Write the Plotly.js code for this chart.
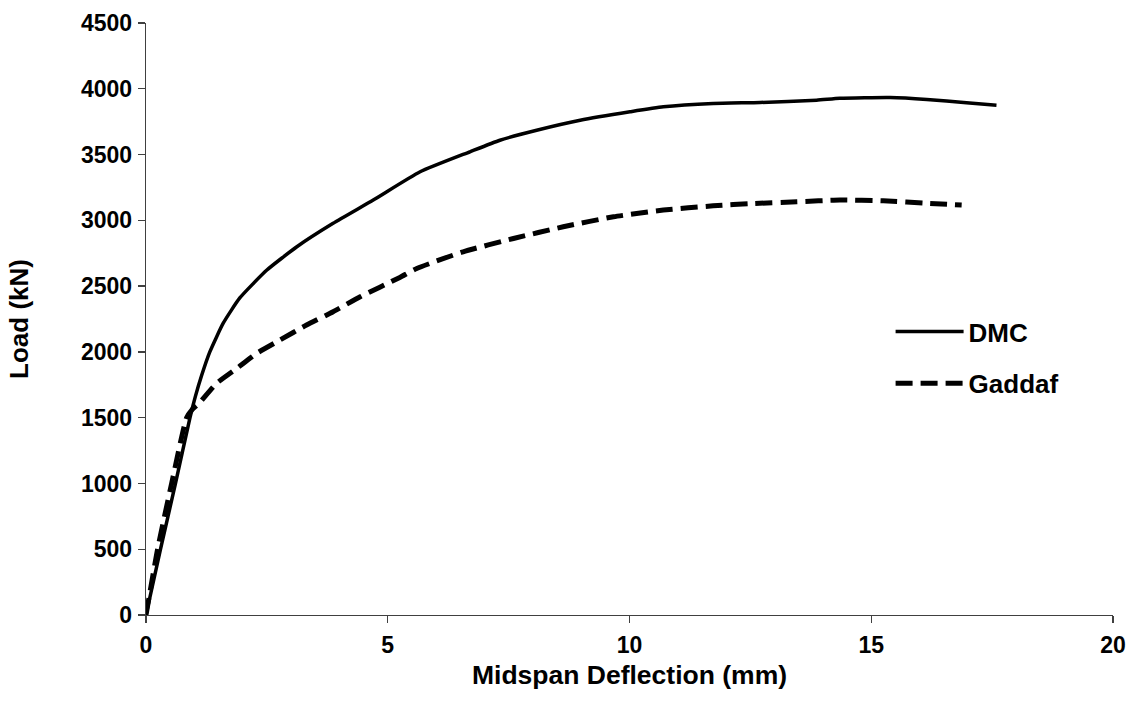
<!DOCTYPE html>
<html>
<head>
<meta charset="utf-8">
<script src="https://cdn.plot.ly/plotly-3.0.1.min.js"></script>
<style>
  html, body { margin: 0; padding: 0; background: #fff; }
  #chart { width: 1132px; height: 718px; }
</style>
</head>
<body>
<div id="chart"></div>
<script>
// Midspan deflection (mm) vs load (kN)
const dmcX = [0, 0.30, 0.61, 0.91, 1.02, 1.15, 1.32, 1.60, 1.94, 2.50, 3.12, 3.87, 4.70, 5.67, 6.70, 7.32, 8.08, 8.98, 10.01, 10.70, 11.73, 12.70, 13.87, 14.35, 15.39, 16.15, 16.97, 17.59];
const dmcY = [0, 500, 1000, 1500, 1660, 1820, 2000, 2220, 2410, 2622, 2799, 2977, 3154, 3369, 3521, 3609, 3685, 3761, 3825, 3863, 3888, 3896, 3913, 3928, 3934, 3919, 3893, 3875];

const gadX = [0, 0.24, 0.53, 0.84, 0.95, 1.10, 1.46, 1.88, 2.29, 2.77, 3.32, 3.87, 4.43, 5.25, 5.60, 6.56, 7.60, 8.63, 9.67, 10.70, 11.73, 12.56, 13.46, 14.35, 15.25, 16.21, 16.87];
const gadY = [0, 500, 1000, 1500, 1560, 1610, 1761, 1875, 1989, 2090, 2204, 2305, 2419, 2566, 2634, 2761, 2862, 2951, 3027, 3078, 3110, 3128, 3141, 3154, 3148, 3128, 3116];

const seriesNames = ["DMC", "Gaddaf"];
const xTickVals = [0, 5, 10, 15, 20];
const yTickVals = [0, 500, 1000, 1500, 2000, 2500, 3000, 3500, 4000, 4500];

const font = "Liberation Sans, Arial, sans-serif";

const traces = [
  {
    x: dmcX, y: dmcY, name: seriesNames[0], mode: "lines",
    line: { color: "#000", width: 3.5, shape: "spline", smoothing: 0.5 },
    legendgroup: "a"
  },
  {
    x: gadX, y: gadY, name: seriesNames[1], mode: "lines",
    line: { color: "#000", width: 5, dash: "17px,8px", shape: "spline", smoothing: 0.5 },
    legendgroup: "b"
  }
];

const axisCommon = {
  showgrid: false, zeroline: false, showline: true,
  linecolor: "#404040", linewidth: 1.3,
  ticks: "outside", ticklen: 7, tickwidth: 1.3, tickcolor: "#404040",
  tickfont: { family: font, size: 23, color: "#000", weight: "bold" }
};

const layout = {
  width: 1132, height: 718,
  margin: { l: 146, r: 19, t: 23, b: 103 },
  paper_bgcolor: "#fff", plot_bgcolor: "#fff",
  showlegend: true,
  legend: {
    x: 0.77, y: 0.435, xanchor: "left", yanchor: "middle",
    font: { family: font, size: 26, color: "#000", weight: "bold" },
    traceorder: "grouped", tracegroupgap: 15,
    itemwidth: 68, bgcolor: "rgba(0,0,0,0)", borderwidth: 0
  },
  xaxis: Object.assign({}, axisCommon, {
    range: [0, 20], tickvals: xTickVals, ticklabelstandoff: 2,
    title: { text: "Midspan Deflection (mm)", standoff: 8,
      font: { family: font, size: 26.5, color: "#000", weight: "bold" } }
  }),
  yaxis: Object.assign({}, axisCommon, {
    range: [0, 4500], tickvals: yTickVals, ticklabelstandoff: 1,
    title: { text: "Load (kN)", standoff: 44,
      font: { family: font, size: 26, color: "#000", weight: "bold" } }
  })
};

Plotly.newPlot("chart", traces, layout, { staticPlot: true, displayModeBar: false });
</script>
</body>
</html>
